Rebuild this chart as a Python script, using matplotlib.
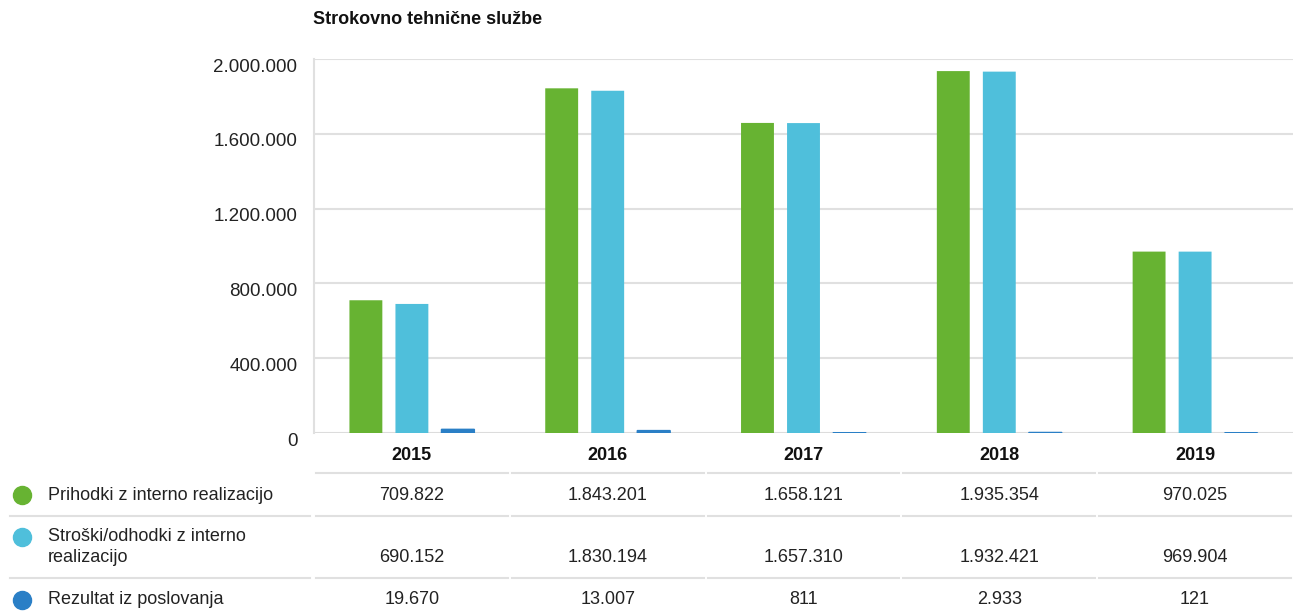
import matplotlib
matplotlib.use("Agg")
import matplotlib.pyplot as plt
import matplotlib.transforms as mtransforms
from matplotlib.lines import Line2D
import numpy as np

plt.rcParams['font.family'] = ['Liberation Sans', 'DejaVu Sans']

years = ['2015', '2016', '2017', '2018', '2019']
series_names = ['Prihodki z interno realizacijo',
                'Stroški/odhodki z interno\nrealizacijo',
                'Rezultat iz poslovanja']
prihodki = [709822, 1843201, 1658121, 1935354, 970025]
stroski = [690152, 1830194, 1657310, 1932421, 969904]
rezultat = [19670, 13007, 811, 2933, 121]
colors = ['#67b332', '#4fbfdb', '#2a7fc6']
yticks = [0, 400000, 800000, 1200000, 1600000, 2000000]

W, H = 1293, 612


def fmt(v):
    return f"{v:,}".replace(",", ".")


def fy(py):
    # pixel row from top -> figure fraction
    return 1 - py / H


fig = plt.figure(figsize=(W / 100, H / 100), dpi=100)
ax = fig.add_axes([314 / W, fy(433), (W - 314) / W, (433 - 59) / H])

x = np.arange(len(years))
bw = 0.168
step = 0.235
for i, vals in enumerate([prihodki, stroski, rezultat]):
    # thin edge on the small series so near-zero bars still show as a line
    lw = 1.0 if i == 2 else 0
    ax.bar(x + (i - 1) * step, vals, width=bw, color=colors[i],
           edgecolor=colors[i], linewidth=lw, zorder=3, snap=False)

ax.set_xlim(-0.5, len(years) - 0.5)
ax.set_ylim(0, 2000000)
ax.set_yticks(yticks)
ax.set_yticklabels([fmt(v) for v in yticks], fontsize=13.5, color='#222222')
ax.tick_params(axis='y', length=0, pad=12)
ax.set_xticks([])
off = mtransforms.ScaledTranslation(0, -6 / 100, fig.dpi_scale_trans)
for lab in ax.get_yticklabels():
    lab.set_transform(lab.get_transform() + off)

ax.grid(axis='y', color='#e0e0e0', linewidth=1.5, zorder=0)
for s in ['top', 'right', 'bottom']:
    ax.spines[s].set_visible(False)
ax.spines['left'].set_color('#e0e0e0')
ax.spines['left'].set_linewidth(1.5)
ax.axhline(0, color='#dcdcdc', linewidth=2, zorder=2)

fig.text(313 / W, fy(20), 'Strokovno tehnične službe', fontsize=13,
         fontweight='bold', ha='left', va='center', color='#111111')

# table under the chart
tr = mtransforms.blended_transform_factory(ax.transData, fig.transFigure)
for i, yr in enumerate(years):
    fig.text(x[i], fy(456), yr, transform=tr, ha='center', va='center',
             fontsize=13, fontweight='bold', color='#111111')

row_y = [495, 558, 600]
label_y = [495, 547, 600]
dot_y = [495, 537, 600]
data = [prihodki, stroski, rezultat]
for r in range(3):
    fig.add_artist(Line2D([22 / W], [fy(dot_y[r])], marker='o', markersize=13,
                          color=colors[r], transform=fig.transFigure))
    fig.text(48 / W, fy(label_y[r]), series_names[r], fontsize=13,
             ha='left', va='center', color='#222222', linespacing=1.3)
    for i in range(len(years)):
        fig.text(x[i], fy(row_y[r]), fmt(data[r][i]), transform=tr,
                 ha='center', va='center', fontsize=13, color='#222222')

# separator lines
for py in [473, 516, 578]:
    for i in range(len(years)):
        fig.add_artist(Line2D([x[i] - 0.49, x[i] + 0.49], [fy(py), fy(py)],
                              color='#e0e0e0', linewidth=1.5, transform=tr))
    if py != 473:
        fig.add_artist(Line2D([10 / W, 310 / W], [fy(py), fy(py)],
                              color='#e0e0e0', linewidth=1.5,
                              transform=fig.transFigure))

fig.savefig('out.png', dpi=100)
